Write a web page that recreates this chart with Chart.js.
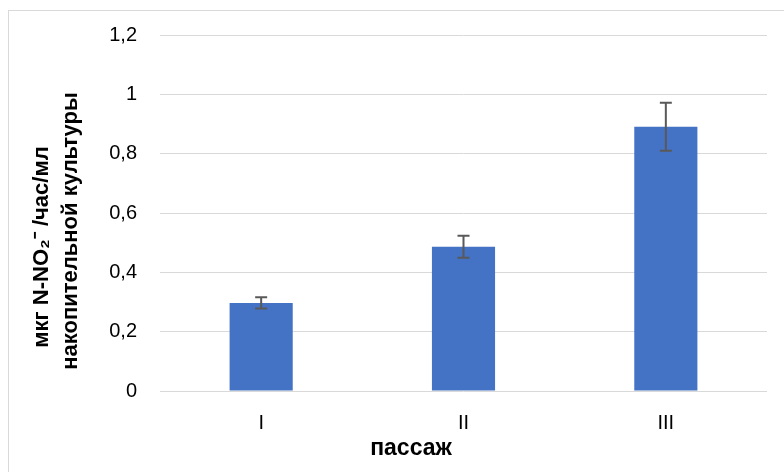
<!DOCTYPE html>
<html>
<head>
<meta charset="utf-8">
<script src="https://cdn.jsdelivr.net/npm/chart.js@4"></script>
<style>
  body { margin: 0; background: #fff; }
  #wrap { position: relative; width: 784px; height: 472px; overflow: hidden; }
  #frame { position: absolute; left: 8px; top: 10px; width: 900px; height: 600px; border: 1.5px solid #d9d9d9; box-sizing: border-box; }
  canvas { position: absolute; left: 0; top: 0; }
</style>
</head>
<body>
<div id="wrap">
  <div id="frame"></div>
  <canvas id="myChart" width="784" height="472"></canvas>
</div>
<script>
const passages = ['I', 'II', 'III']
const activity = [0.297, 0.486, 0.891]
const errors = [0.019, 0.037, 0.081]
const yTicks = ['0', '0,2', '0,4', '0,6', '0,8', '1', '1,2']
const yTitle = ['мкг N-NO₂⁻ /час/мл', 'накопительной культуры']
const xTitle = 'пассаж'

// error bars, drawn through the y scale
const errorBars = {
    id: 'errorBars',
    afterDatasetsDraw(chart) {
        const ctx = chart.ctx
        const y = chart.scales.y
        const meta = chart.getDatasetMeta(0)
        ctx.save()
        ctx.strokeStyle = '#595959'
        ctx.lineWidth = 2
        meta.data.forEach((bar, i) => {
            const top = y.getPixelForValue(activity[i] + errors[i])
            const bottom = y.getPixelForValue(activity[i] - errors[i])
            ctx.beginPath()
            ctx.moveTo(bar.x, top)
            ctx.lineTo(bar.x, bottom)
            ctx.moveTo(bar.x - 6, top)
            ctx.lineTo(bar.x + 6, top)
            ctx.moveTo(bar.x - 6, bottom)
            ctx.lineTo(bar.x + 6, bottom)
            ctx.stroke()
        })
        ctx.restore()
    }
}

// axis titles (Excel centres them on the whole chart, not the plot)
const axisTitles = {
    id: 'axisTitles',
    afterDraw(chart) {
        const ctx = chart.ctx
        ctx.save()
        ctx.fillStyle = '#000'
        ctx.textAlign = 'center'
        ctx.textBaseline = 'middle'
        ctx.font = 'bold 23px "Liberation Sans", Arial, sans-serif'
        ctx.fillText(xTitle, 411, 449)
        ctx.font = 'bold 22px "Liberation Sans", Arial, sans-serif'
        const centres = [[42, 247], [71, 231]]
        yTitle.forEach((line, i) => {
            ctx.save()
            ctx.translate(centres[i][0], centres[i][1])
            ctx.rotate(-Math.PI / 2)
            ctx.fillText(line, 0, 0)
            ctx.restore()
        })
        ctx.restore()
    }
}

const data = {
    labels: passages,
    datasets: [{
        data: activity,
        backgroundColor: '#4472C4',
        categoryPercentage: 1,
        barPercentage: 0.312
    }]
}

const config = {
    type: 'bar',
    data,
    options: {
        responsive: false,
        animation: false,
        devicePixelRatio: 1,
        layout: {
            padding: { top: 34, right: 17, bottom: 0, left: 0 }
        },
        scales: {
            x: {
                grid: { display: false, drawTicks: false },
                border: { display: false },
                ticks: {
                    color: '#000',
                    padding: 20,
                    font: { family: '"Liberation Sans", Arial, sans-serif', size: 20 }
                },
                afterFit(scale) { scale.height = 81 }
            },
            y: {
                min: 0,
                max: 1.2,
                grid: { color: '#d9d9d9', drawTicks: false },
                border: { display: false },
                ticks: {
                    stepSize: 0.2,
                    color: '#000',
                    padding: 23,
                    font: { family: '"Liberation Sans", Arial, sans-serif', size: 20 },
                    callback: (value, index) => yTicks[index]
                },
                afterFit(scale) { scale.width = 160 }
            }
        },
        plugins: {
            legend: { display: false },
            tooltip: { enabled: false }
        }
    },
    plugins: [errorBars, axisTitles]
}

const myChart = new Chart(document.getElementById('myChart'), config)
</script>
</body>
</html>
